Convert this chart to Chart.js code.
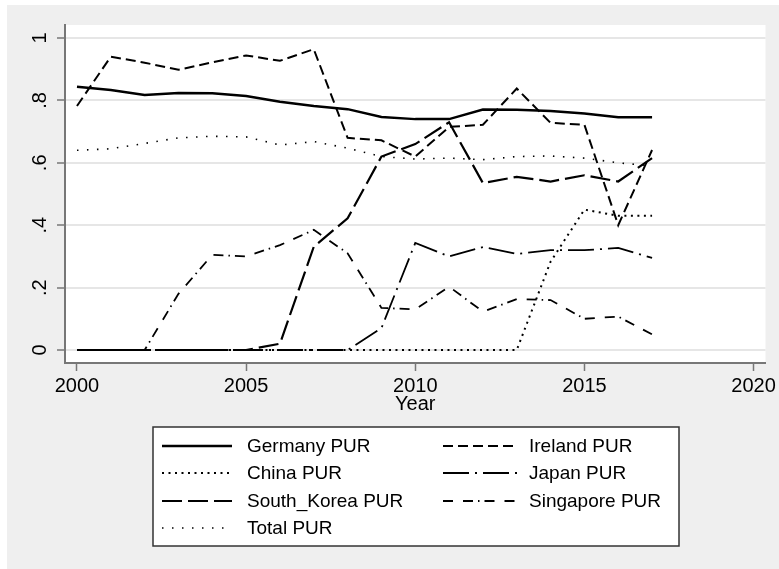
<!DOCTYPE html>
<html>
<head>
<meta charset="utf-8">
<title>PUR by country</title>
<script src="https://cdn.jsdelivr.net/npm/chart.js@4.4.1/dist/chart.umd.min.js"></script>
<style>
  html, body { margin: 0; padding: 0; background: #fff; }
  #wrap { width: 779px; height: 569px; }
</style>
</head>
<body>
<div id="wrap"><canvas id="purChart" width="779" height="569"></canvas></div>
<script>
const years = [2000, 2001, 2002, 2003, 2004, 2005, 2006, 2007, 2008, 2009, 2010, 2011, 2012, 2013, 2014, 2015, 2016, 2017];

const germanyPur   = [0.844, 0.833, 0.817, 0.824, 0.823, 0.814, 0.796, 0.782, 0.772, 0.747, 0.740, 0.740, 0.771, 0.770, 0.766, 0.758, 0.746, 0.746];
const irelandPur   = [0.782, 0.940, 0.921, 0.898, 0.922, 0.944, 0.927, 0.964, 0.680, 0.672, 0.620, 0.715, 0.722, 0.838, 0.728, 0.722, 0.400, 0.641];
const chinaPur     = [0, 0, 0, 0, 0, 0, 0, 0, 0, 0, 0, 0, 0, 0, 0.283, 0.450, 0.430, 0.430];
const japanPur     = [0, 0, 0, 0, 0, 0, 0, 0, 0, 0.070, 0.343, 0.300, 0.330, 0.308, 0.320, 0.320, 0.327, 0.295];
const koreaPur     = [0, 0, 0, 0, 0, 0, 0.020, 0.331, 0.422, 0.620, 0.660, 0.730, 0.535, 0.555, 0.540, 0.560, 0.540, 0.615];
const singaporePur = [0, 0, 0, 0.180, 0.305, 0.300, 0.336, 0.385, 0.310, 0.135, 0.130, 0.203, 0.123, 0.163, 0.160, 0.100, 0.107, 0.050];
const totalPur     = [0.640, 0.645, 0.662, 0.680, 0.685, 0.683, 0.657, 0.668, 0.647, 0.620, 0.612, 0.615, 0.610, 0.620, 0.622, 0.615, 0.600, 0.590];

const xTicks = [2000, 2005, 2010, 2015, 2020];
const yTicks = [0, 0.2, 0.4, 0.6, 0.8, 1];
const yTickLabels = ['0', '.2', '.4', '.6', '.8', '1'];

const seriesNames = ['Germany PUR', 'Ireland PUR', 'China PUR', 'Japan PUR', 'South_Korea PUR', 'Singapore PUR', 'Total PUR'];
const seriesValues = [germanyPur, irelandPur, chinaPur, japanPur, koreaPur, singaporePur, totalPur];
const seriesDash = [[], [10, 5], [2, 4.5], [26, 6, 2, 6], [20, 6], [10, 10, 10, 5, 1.5, 5], [1.5, 8.5]];
const seriesWidth = [2.5, 2, 2, 1.8, 2.2, 1.8, 1.6];

const FONT = "'Liberation Sans', Arial, sans-serif";
Chart.defaults.font.family = FONT;
Chart.defaults.color = '#000';

const datasets = seriesNames.map((name, i) => ({
  label: name,
  data: years.map((yr, j) => ({ x: yr, y: seriesValues[i][j] })),
  borderColor: '#000',
  borderWidth: seriesWidth[i],
  borderDash: seriesDash[i],
  borderCapStyle: 'butt',
  pointRadius: 0,
  tension: 0,
  fill: false
}));

// grey graph region with a white plot region
const backdropPlugin = {
  id: 'backdrop',
  beforeDraw(chart) {
    const { ctx, chartArea: a, width, height } = chart;
    ctx.save();
    ctx.fillStyle = '#fff';
    ctx.fillRect(0, 0, width, height);
    ctx.fillStyle = '#efefef';
    ctx.fillRect(7, 5, width - 7, height - 5);
    ctx.fillStyle = '#fff';
    ctx.fillRect(a.left, a.top, a.right - a.left, a.bottom - a.top);
    ctx.restore();
  }
};

// Stata style vertical y tick labels
const yLabelsPlugin = {
  id: 'yLabels',
  afterDraw(chart) {
    const { ctx } = chart;
    const scale = chart.scales.y;
    ctx.save();
    ctx.fillStyle = '#000';
    ctx.font = `20px ${FONT}`;
    ctx.textAlign = 'center';
    ctx.textBaseline = 'middle';
    yTicks.forEach((v, i) => {
      const py = scale.getPixelForValue(v);
      ctx.save();
      ctx.translate(40, py);
      ctx.rotate(-Math.PI / 2);
      ctx.fillText(yTickLabels[i], 0, 0);
      ctx.restore();
    });
    ctx.restore();
  }
};

// boxed two column legend below the plot
const boxLegendPlugin = {
  id: 'boxLegend',
  afterDraw(chart) {
    const { ctx } = chart;
    const box = { left: 153, top: 427, right: 679, bottom: 546 };
    ctx.save();
    ctx.fillStyle = '#fff';
    ctx.fillRect(box.left, box.top, box.right - box.left, box.bottom - box.top);
    ctx.strokeStyle = '#333';
    ctx.lineWidth = 1.5;
    ctx.strokeRect(box.left, box.top, box.right - box.left, box.bottom - box.top);

    const cols = [{ x0: 162, x1: 232, tx: 247 }, { x0: 443, x1: 517, tx: 529 }];
    const rowY = [446, 473, 501, 528];
    ctx.font = `19px ${FONT}`;
    ctx.textAlign = 'left';
    ctx.textBaseline = 'middle';
    chart.data.datasets.forEach((ds, i) => {
      const col = cols[i % 2];
      const y = rowY[Math.floor(i / 2)];
      ctx.beginPath();
      ctx.setLineDash(ds.borderDash);
      ctx.lineWidth = ds.borderWidth;
      ctx.strokeStyle = ds.borderColor;
      ctx.lineCap = 'butt';
      ctx.moveTo(col.x0, y);
      ctx.lineTo(col.x1, y);
      ctx.stroke();
      ctx.setLineDash([]);
      ctx.fillStyle = '#000';
      ctx.fillText(ds.label, col.tx, y + 1);
    });
    ctx.restore();
  }
};

new Chart(document.getElementById('purChart'), {
  type: 'line',
  data: { datasets },
  options: {
    responsive: false,
    animation: false,
    layout: { padding: { top: 25, right: 12, left: 0, bottom: 150 } },
    plugins: {
      legend: { display: false },
      tooltip: { enabled: false }
    },
    scales: {
      x: {
        type: 'linear',
        min: 1999.646,
        max: 2020.354,
        afterBuildTicks: axis => { axis.ticks = xTicks.map(v => ({ value: v })); },
        afterFit: axis => { axis.height = 569 - 150 - 363; },
        ticks: { callback: v => String(v), font: { size: 20 }, color: '#000', padding: 3, maxRotation: 0 },
        grid: { drawOnChartArea: false, drawTicks: true, tickLength: 8, tickColor: '#777', tickWidth: 1.5 },
        border: { color: '#777', width: 2 },
        title: { display: true, text: 'Year', font: { size: 20 }, color: '#000', padding: { top: 0, bottom: 3 } }
      },
      y: {
        type: 'linear',
        min: -0.0417,
        max: 1.0417,
        afterBuildTicks: axis => { axis.ticks = yTicks.map(v => ({ value: v })); },
        afterFit: axis => { axis.width = 65; },
        ticks: { display: false },
        grid: { color: '#e6e6e6', lineWidth: 2, tickLength: 8, tickColor: '#777', tickWidth: 1.5 },
        border: { color: '#777', width: 2 }
      }
    }
  },
  plugins: [backdropPlugin, yLabelsPlugin, boxLegendPlugin]
});
</script>
</body>
</html>
